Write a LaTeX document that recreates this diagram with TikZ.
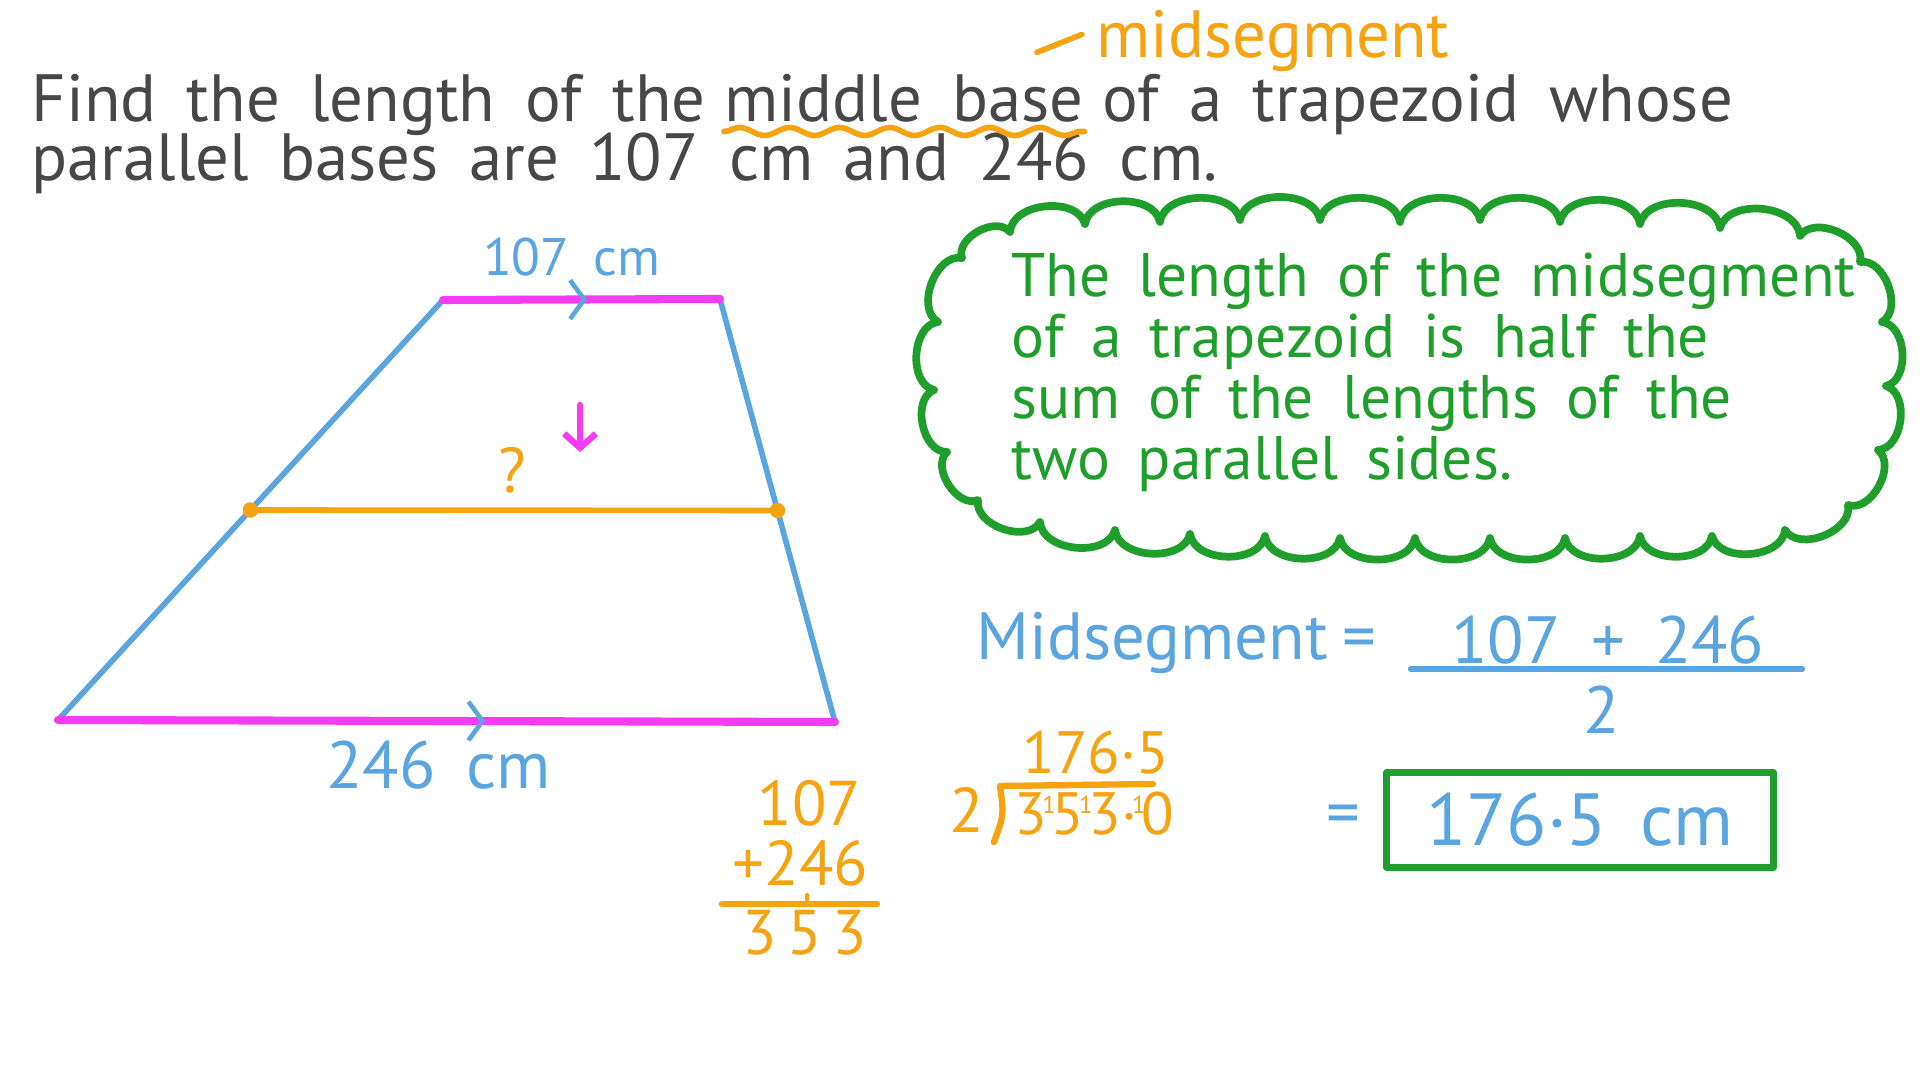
\documentclass[tikz,border=0pt]{standalone}
\usepackage{fontspec}
\setmainfont{PT Sans}[WordSpace=1.7]
\usepackage{tikz}
\usetikzlibrary{positioning,calc,arrows.meta,decorations.pathmorphing,decorations.markings}
\definecolor{inkgray}{HTML}{474747}
\definecolor{inkorange}{HTML}{F5A310}
\definecolor{inkblue}{HTML}{5AA5E0}
\definecolor{inkpink}{HTML}{F53CF2}
\definecolor{inkgreen}{HTML}{1F9E2B}
\newcommand{\carry}{\kern-1.4pt\raisebox{6pt}{\fontsize{7}{7}\selectfont 1}\kern-1.2pt}

\begin{document}
\begin{tikzpicture}[x=0.01cm,y=-0.01cm,line cap=round,line join=round,
	leg/.style={draw=inkblue,line width=1.6pt},
	parbase/.style={draw=inkpink,line width=2.3pt,postaction={decorate},
		decoration={markings,mark=at position #1 with {\arrow[inkblue,line width=1.3pt]{Straight Barb[length=4pt,width=11pt]}}}},
	titletext/.style={inner sep=0pt,text depth=0pt,text=inkgray,font=\fontsize{19}{23}\selectfont},
	orangetext/.style={inner sep=0pt,text=inkorange,font=\fontsize{18}{22}\selectfont},
	bluetext/.style={inner sep=0pt,text=inkblue,font=\fontsize{19}{23}\selectfont},
	greentext/.style={inner sep=0pt,text=inkgreen,font=\fontsize{17.5}{17.4}\selectfont}]
	\fill[white] (0,0) rectangle (1920,1080);
	\useasboundingbox (0,0) rectangle (1920,1080);

	\node[titletext,anchor=base west] (find) at (31,122) {Find the length of the};
	\node[titletext,base right=0.5em of find] (middle) {middle base};
	\node[titletext,base right=0.5em of middle] (whose) {of a trapezoid whose};
	\node[titletext,anchor=base west] (bases) at (31,181) {parallel bases are 107 cm and 246 cm.};
	\draw[inkorange,line width=1.6pt,decorate,decoration={snake,segment length=0.5cm,amplitude=0.04cm}] ([yshift=-2.5pt]middle.south west) -- ([yshift=-2.5pt]middle.south east);
	\node[orangetext,anchor=base west,font=\fontsize{19}{23}\selectfont] (midword) at (1096,58) {midsegment};
	\coordinate (dashend) at ([xshift=-4pt,yshift=2pt]midword.west);
	\draw[inkorange,line width=1.6pt] (dashend) -- ++(-45,18);

	\coordinate (bl) at (58,720);
	\coordinate (br) at (835,722);
	\coordinate (tr) at (720,299);
	\coordinate (tl) at (443,300);
	\coordinate (ml) at ($(bl)!0.5!(tl)$);
	\coordinate (mr) at ($(br)!0.5!(tr)$);
	\draw[leg] (bl) -- (tl);
	\draw[leg] (tr) -- (br);
	\draw[parbase=0.52] (tl) -- (tr);
	\draw[parbase=0.55] (bl) -- (br);
	\draw[inkorange,line width=1.6pt] (ml) -- (mr);
	\fill[inkorange] (ml) circle[radius=2.2pt] (mr) circle[radius=2.2pt];
	\node[bluetext,shift={(-10,-42)},font=\fontsize{15}{18}\selectfont] (toplab) at ($(tl)!0.5!(tr)$) {107 cm};
	\node[bluetext,shift={(-8,44)}] (botlab) at ($(bl)!0.5!(br)$) {246 cm};
	\node[orangetext] (ask) at (512,470) {?};
	\coordinate (arrtop) at (580,405);
	\coordinate (arrtip) at (580,452);
	\draw[inkpink,line width=1.8pt,-{Straight Barb[length=4pt,width=9pt]}] (arrtop) -- (arrtip);

	\draw[inkgreen,line width=2.2pt] (962,258)
		\foreach \cx/\cy in {1010/232,1085/224,1160/222,1240/220,1320/220,1400/222,1480/220,
			1560/222,1640/224,1720/228,1800/236,1860/262,1882/322,1886/386,1878/450,
			1848/505,1785/530,1712/536,1640/536,1565/538,1490/538,1415/538,1340/538,
			1265/536,1190/534,1115/530,1040/522,978/500,947/452,934/390,938/322}
		{to[bend left=80] (\cx,\cy)} to[bend left=80] (962,258);
	\node[greentext,align=left,anchor=north west] (rule) at (1011,252)
		{The length of the midsegment\\of a trapezoid is half the\\sum of the lengths of the\\two parallel sides.};

	\node[bluetext,anchor=base west] (msl) at (976,660) {Midsegment\kern4pt=};
	\node[bluetext] (num) at (1608,640) {107 + 246};
	\coordinate (fracl) at (1411,669);
	\coordinate (fracr) at (1802,669);
	\draw[inkblue,line width=1.8pt] (fracl) -- (fracr);
	\node[bluetext] (den) at (1602,710) {2};
	\node[bluetext,draw=inkgreen,line width=2pt,minimum width=3.87cm,minimum height=0.94cm,
		font=\fontsize{21}{25}\selectfont] (ans) at (1580,820) {176·5 cm};
	\node[bluetext,left=0.22cm of ans] (eq) {=};

	\node[orangetext,anchor=base east] (adda) at (862,826) {107};
	\node[orangetext,anchor=base east] (addb) at (869,886) {+246};
	\node[orangetext,anchor=base east] (sum) at (868,955) {3\,5\,3};
	\coordinate (suml) at (722,904);
	\coordinate (sumr) at (877,904);
	\draw[inkorange,line width=1.8pt] (suml) -- (sumr);
	\draw[inkorange,line width=1.2pt] (807,895) -- (807,902);

	\node[orangetext,anchor=base] (divisor) at (967,833) {2};
	\node[orangetext,anchor=base west,font=\fontsize{17}{20}\selectfont] (dividend) at (1014,835) {3\carry5\carry3·\carry0};
	\node[orangetext,anchor=base west,font=\fontsize{17}{20}\selectfont] (quot) at (1022,774) {176·5};
	\coordinate (brbot) at (994,842);
	\coordinate (brtop) at (1000,786);
	\coordinate (brend) at (1153,784);
	\draw[inkorange,line width=1.8pt] (brbot) .. controls (1004,815) .. (brtop) -- (brend);
\end{tikzpicture}
\end{document}
